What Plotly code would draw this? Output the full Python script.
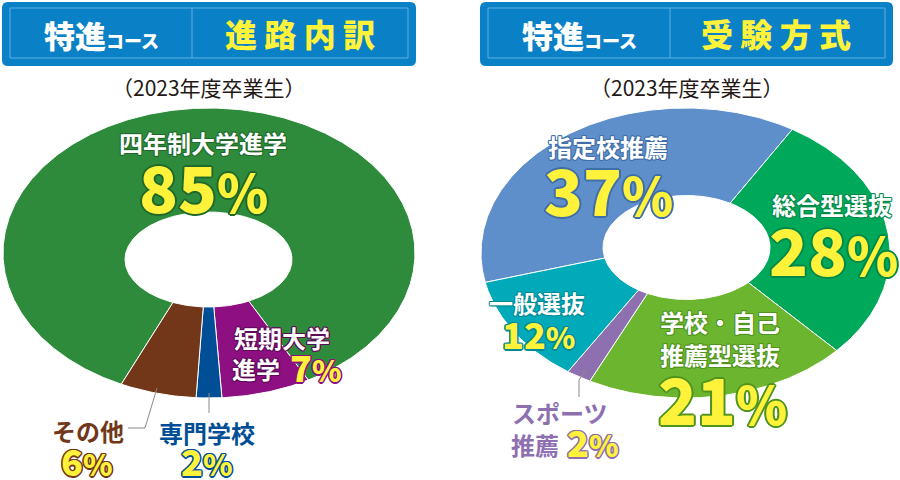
import numpy as np
import plotly.graph_objects as go

# ---------------- data ----------------
left_labels = ["四年制大学進学", "短期大学進学", "専門学校", "その他"]
left_values = [85, 7, 2, 6]
left_colors = ["#2e8b3c", "#8d0f82", "#004e96", "#713718"]

right_labels = ["指定校推薦", "総合型選抜", "学校・自己推薦型選抜", "スポーツ推薦", "一般選抜"]
right_values = [37, 28, 21, 2, 12]
right_colors = ["#5e8fca", "#00a859", "#6cb52f", "#8e70b0", "#00aab8"]

titles = ["進路内訳", "受験方式"]
subtitle = "（2023年度卒業生）"

FONT = "Noto Sans CJK JP"
YELLOW = "#fff23a"
HEAD = "#0a80c6"

fig = go.Figure()


def donut(values, colors, names, cx, cy, rx, ry, icx, icy, irx, iry, start):
    total = sum(values)
    a0 = start
    for v, c, n in zip(values, colors, names):
        a1 = a0 + 360.0 * v / total
        t = np.radians(np.linspace(a0, a1, max(int(abs(a1 - a0) * 2), 4)))
        xo = cx + rx * np.sin(t)
        yo = cy - ry * np.cos(t)
        xi = icx + irx * np.sin(t[::-1])
        yi = icy - iry * np.cos(t[::-1])
        xs = np.concatenate([xo, xi, xo[:1]])
        ys = np.concatenate([yo, yi, yo[:1]])
        fig.add_trace(go.Scatter(x=xs, y=ys, fill="toself", fillcolor=c, mode="lines",
                                 line=dict(color="white", width=1), name=n,
                                 hoverinfo="name", showlegend=False))
        a0 = a1


donut(left_values, left_colors, left_labels, 209, 253, 206, 145, 208.5, 259.5, 83.5, 47.5, 205.2)
donut(right_values, right_colors, right_labels, 685.5, 253, 204.5, 145, 686.5, 247.5, 83.5, 52, 258.3)


def outline(c, w=1.5):
    d = w
    e = round(w * 0.7, 2)
    return ", ".join([f"{d}px 0 0 {c}", f"-{d}px 0 0 {c}", f"0 {d}px 0 {c}", f"0 -{d}px 0 {c}",
                      f"{e}px {e}px 0 {c}", f"-{e}px {e}px 0 {c}", f"{e}px -{e}px 0 {c}", f"-{e}px -{e}px 0 {c}"])


def ann(text, x, y, size, color, oc=None, ow=1.5, weight=700):
    f = dict(family=FONT, size=size, color=color, weight=weight)
    if oc:
        f["shadow"] = outline(oc, ow)
    fig.add_annotation(x=x, y=y, text=text, showarrow=False, font=f,
                       xanchor="center", yanchor="middle", xref="x", yref="y")


def num(v, x, y, size, psize, oc, ow):
    ann(f"{v}<span style='font-size:{psize}px'>%</span>", x, y, size, YELLOW, oc, ow, 900)


shapes = []
# headers
for (x0, x1, ix0, ix1, dv, tx, tcx, sx) in [
        (2, 416, 10, 408, 192, titles[0], 300, 101),
        (480, 893, 488, 885, 670, titles[1], 776, 579)]:
    r = 6
    path = (f"M {x0+r},2 L {x1-r},2 Q {x1},2 {x1},{2+r} L {x1},{66-r} Q {x1},66 {x1-r},66 "
            f"L {x0+r},66 Q {x0},66 {x0},{66-r} L {x0},{2+r} Q {x0},2 {x0+r},2 Z")
    shapes.append(dict(type="path", path=path, fillcolor=HEAD, line=dict(width=0), xref="x", yref="y", layer="below"))
    shapes.append(dict(type="rect", x0=ix0, x1=ix1, y0=8, y1=58, line=dict(color="#5fb0e4", width=1),
                       xref="x", yref="y", layer="below"))
    shapes.append(dict(type="line", x0=dv, x1=dv, y0=8, y1=58, line=dict(color="#5fb0e4", width=1),
                       xref="x", yref="y", layer="below"))
    ann("特進<span style='font-size:18px'>コース</span>", sx, 34, 31, "white", weight=900)
    ann(" ".join(tx), tcx, 33, 32, YELLOW, weight=900)

ann(subtitle, 209, 87, 21, "#231815", weight=400)
ann(subtitle, 687, 87, 21, "#231815", weight=400)

# leader lines
GL = dict(color="#8a8a8a", width=1)
shapes.append(dict(type="path", path="M 157,388 L 145,428 L 128,428", line=GL, xref="x", yref="y"))
shapes.append(dict(type="line", x0=209, x1=209, y0=393, y1=413, line=GL, xref="x", yref="y"))
shapes.append(dict(type="path", path="M 586,370 L 579,380 L 579,397", line=GL, xref="x", yref="y"))

DG = "#1f6a2a"
# left labels
ann(left_labels[0], 203, 142, 24, "white", DG, 1)
num(left_values[0], 203, 185, 64, 52, DG, 2)
ann("短期大学", 282, 337, 24, "white", "#5e0a57", 1.2)
ann("進学", 256, 368, 24, "white", "#5e0a57", 1.2)
num(left_values[1], 316, 366, 36, 30, left_colors[1], 1.5)
ann(left_labels[3], 88, 430, 24, left_colors[3])
num(left_values[3], 87, 460, 36, 30, left_colors[3], 1.5)
ann(left_labels[2], 207, 432, 24, left_colors[2])
num(left_values[2], 207, 460, 36, 30, left_colors[2], 1.5)

# right labels
ann(right_labels[0], 608, 146, 24, "white", "#3f6ea8", 1)
num(right_values[0], 608, 188, 64, 52, "#3f6ea8", 2)
ann(right_labels[1], 832, 204, 24, "white", "#008a48", 1)
num(right_values[1], 833, 248, 64, 52, "#008a48", 2)
ann("学校・自己", 720, 321, 24, "white", "#4f9420", 1)
ann("推薦型選抜", 720, 354, 24, "white", "#4f9420", 1)
num(right_values[2], 722, 397, 64, 52, "#4f9420", 2)
ann(right_labels[4], 537, 302, 24, "white", "#008a96", 1)
num(right_values[4], 538, 333, 36, 30, "#008a96", 1.5)
ann("スポーツ", 560, 412, 24, right_colors[3])
ann("推薦", 535, 444, 24, right_colors[3])
num(right_values[3], 593, 441, 36, 30, right_colors[3], 1.5)

fig.update_layout(
    width=900, height=480, margin=dict(l=0, r=0, t=0, b=0),
    paper_bgcolor="white", plot_bgcolor="white",
    xaxis=dict(range=[0, 900], visible=False, fixedrange=True),
    yaxis=dict(range=[480, 0], visible=False, fixedrange=True),
    shapes=shapes, showlegend=False,
)
fig.write_html("out.html")
